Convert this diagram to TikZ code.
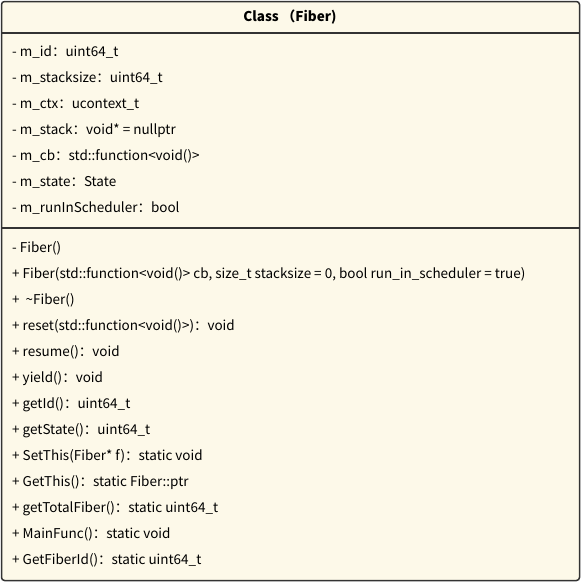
\documentclass[tikz,border=0pt]{standalone}
\usepackage{fontspec}
\setmainfont{Noto Sans CJK SC}
\begin{document}
\begin{tikzpicture}[x=1pt,y=-1pt,
  item/.style={anchor=west,inner sep=0pt,font=\fontsize{13.5}{15}\selectfont,text=black},
  ttl/.style={inner sep=0pt,font=\fontsize{13.5}{15}\selectfont\bfseries,text=black},
  frame/.style={draw=black!80,line width=1.5pt,fill=cream,rounded corners=3pt},
  sep/.style={draw=black!80,line width=1.5pt}]
\definecolor{cream}{HTML}{FDF9E9}
\useasboundingbox (0,0) rectangle (581,582);
\path[frame] (1.5,1.5) rectangle (579.5,580.5);
\coordinate (d1l) at (1.5,33); \coordinate (d1r) at (579.5,33);
\coordinate (d2l) at (1.5,228); \coordinate (d2r) at (579.5,228);
\draw[sep] (d1l) -- (d1r);
\draw[sep] (d2l) -- (d2r);
\node[ttl] (title) at (290,17) {Class （Fiber)};
\node[item] (a1) at (12,52.5) {- m\_id：uint64\_t};
\node[item] (a2) at (12,78.5) {- m\_stacksize：uint64\_t};
\node[item] (a3) at (12,104.5) {- m\_ctx：ucontext\_t};
\node[item] (a4) at (12,130.5) {- m\_stack：void* = nullptr};
\node[item] (a5) at (12,156.5) {- m\_cb：std::function<void()>};
\node[item] (a6) at (12,182.5) {- m\_state：State};
\node[item] (a7) at (12,208.5) {- m\_runInScheduler：bool};
\node[item] (m1) at (12,248.5) {- Fiber()};
\node[item] (m2) at (12,274.5) {+ Fiber(std::function<void()> cb, size\_t stacksize = 0, bool run\_in\_scheduler = true)};
\node[item] (m3) at (12,300.5) {+\ \ \textasciitilde Fiber()};
\node[item] (m4) at (12,326.5) {+ reset(std::function<void()>)：void};
\node[item] (m5) at (12,352.5) {+ resume()：void};
\node[item] (m6) at (12,378.5) {+ yield()：void};
\node[item] (m7) at (12,404.5) {+ getId()：uint64\_t};
\node[item] (m8) at (12,430.5) {+ getState()：uint64\_t};
\node[item] (m9) at (12,456.5) {+ SetThis(Fiber* f)：static void};
\node[item] (m10) at (12,482.5) {+ GetThis()：static Fiber::ptr};
\node[item] (m11) at (12,508.5) {+ getTotalFiber()：static uint64\_t};
\node[item] (m12) at (12,534.5) {+ MainFunc()：static void};
\node[item] (m13) at (12,560.5) {+ GetFiberId()：static uint64\_t};
\end{tikzpicture}
\end{document}
